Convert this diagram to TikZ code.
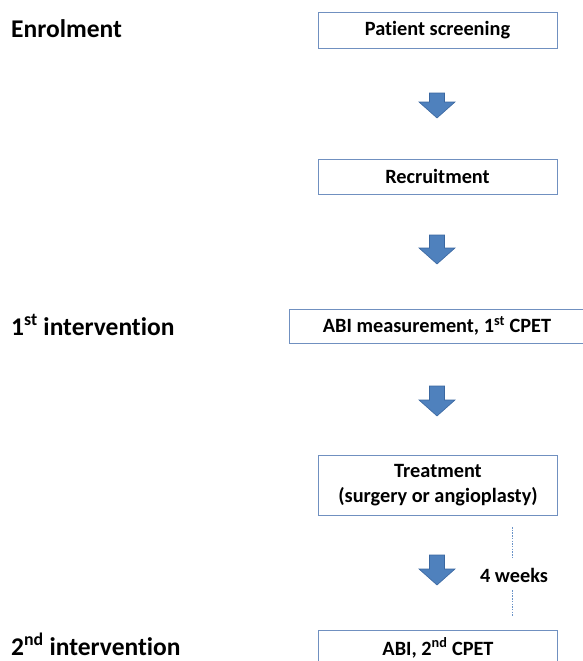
\documentclass[tikz,border=0pt]{standalone}
\usepackage{fontspec}
\setmainfont{Carlito}[Ligatures=NoCommon]
\definecolor{boxblue}{HTML}{7090C0}
\definecolor{arrfill}{HTML}{4F81BD}
\definecolor{arrline}{HTML}{3A67A0}
\definecolor{dashblue}{HTML}{6A93C8}
\newcommand{\blkarrow}[4]{%
  \draw[blockarrow] (#2-7.5,#3) -- (#2+7.5,#3) -- (#2+7.5,#4-16) -- (#2+18,#4-16)
    -- (#2,#4) -- (#2-18,#4-16) -- (#2-7.5,#4-16) -- cycle;
  \coordinate (#1) at (#2,#4);}
\begin{document}
\begin{tikzpicture}[x=1pt,y=-1pt,
  stepbox/.style={draw=boxblue, line width=0.9pt, minimum width=239pt, minimum height=36pt,
    inner sep=0pt, align=center, font=\fontsize{20.3}{25}\selectfont\bfseries},
  phase/.style={anchor=base west, inner sep=0pt, font=\fontsize{25.5}{28}\selectfont\bfseries},
  blockarrow/.style={fill=arrfill, draw=arrline, line width=0.6pt, line join=miter},
  weeks/.style={dashblue, line width=0.6pt, dash pattern=on 1.5pt off 1.2pt}]
\useasboundingbox (0,0) rectangle (583,661);

% phase labels
\node[phase] (enrol) at (11,38) {Enrolment};
\node[phase] (int1) at (11,335) {1\textsuperscript{st} intervention};
\node[phase] (int2) at (11,655) {2\textsuperscript{nd} intervention};

% boxes
\node[stepbox] (screen) at (437.5,30) {Patient screening};
\node[stepbox, minimum height=35pt] (recruit) at (437.5,176.5) {Recruitment};
\node[stepbox, minimum width=296pt, minimum height=34pt] (abi1) at (437,326) {ABI measurement, 1\textsuperscript{st} CPET};
\node[stepbox, minimum height=60pt] (treat) at (438,485) {Treatment\\(surgery or angioplasty)};
\node[stepbox] (abi2) at (438,648) {ABI, 2\textsuperscript{nd} CPET};

% block arrows
\blkarrow{a1}{437}{93}{118}
\blkarrow{a2}{437}{235}{264}
\blkarrow{a3}{437}{386}{416}
\blkarrow{a4}{437}{555}{585}

% 4 weeks
\node[font=\fontsize{20.3}{22}\selectfont\bfseries, inner sep=0pt] (wk) at (514,575) {4 weeks};
\coordinate (wtop) at (512,527);
\coordinate (wbot) at (512,617);
\draw[weeks] (wtop) -- (wtop |- 0,558);
\draw[weeks] (wbot |- 0,590) -- (wbot);
\end{tikzpicture}
\end{document}
